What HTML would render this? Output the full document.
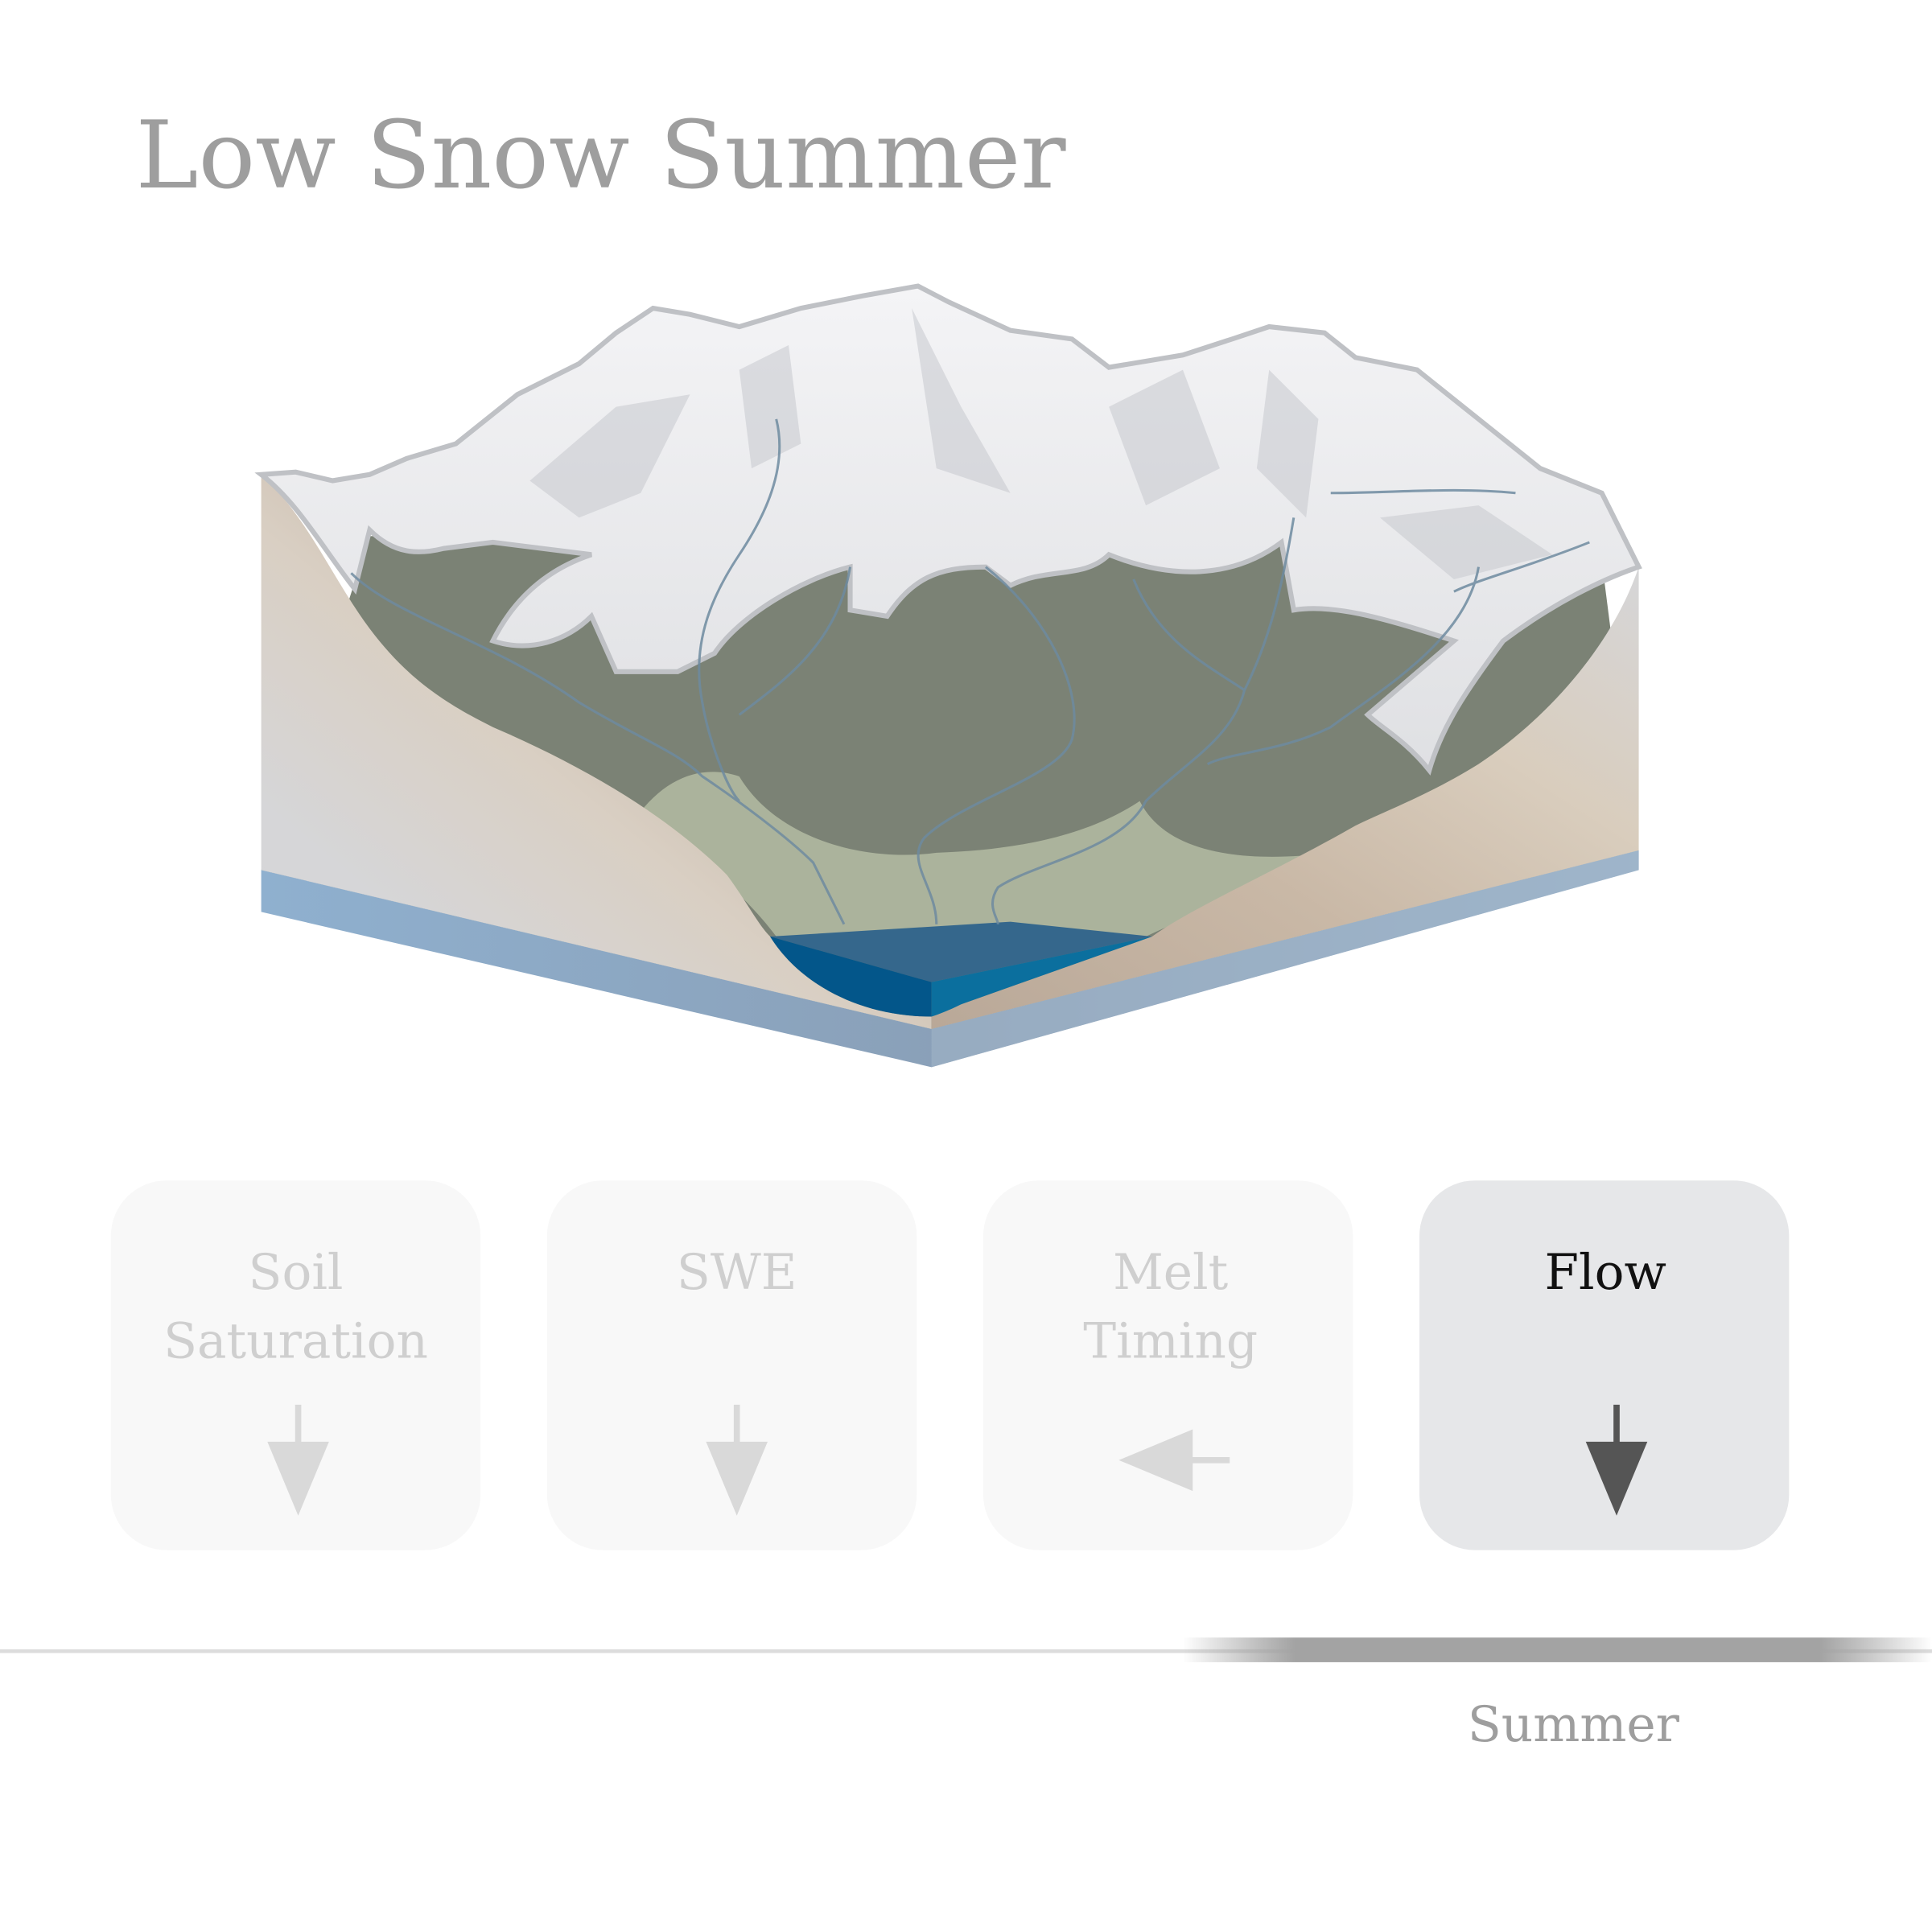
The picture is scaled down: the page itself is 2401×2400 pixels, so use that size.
<!DOCTYPE html>
<html><head><meta charset="utf-8"><style>
html,body{margin:0;padding:0;background:#fff;}
svg{display:block;}
text{font-family:"DejaVu Serif","Liberation Serif",serif;}
</style></head><body>
<svg width="2401" height="2400" viewBox="0 0 1568 1567" xmlns="http://www.w3.org/2000/svg">
<defs>
<linearGradient id="soilL" x1="1" y1="0" x2="0" y2="1">
<stop offset="0" stop-color="#b9a898"/><stop offset="0.3" stop-color="#c4b3a3"/><stop offset="0.55" stop-color="#d9cfc3"/><stop offset="0.8" stop-color="#d6d6d8"/><stop offset="1" stop-color="#d4d4d6"/></linearGradient>
<linearGradient id="soilR" x1="0" y1="1" x2="1" y2="0">
<stop offset="0" stop-color="#b9a898"/><stop offset="0.4" stop-color="#c9b8a6"/><stop offset="0.7" stop-color="#d9cdbd"/><stop offset="1" stop-color="#d6d6d8"/></linearGradient>
<linearGradient id="band" x1="0" x2="1"><stop offset="0" stop-color="#8fb0cf"/><stop offset="0.5" stop-color="#8aa0b8"/><stop offset="1" stop-color="#a2bed6"/></linearGradient>
<linearGradient id="snow" x1="0" y1="0" x2="0" y2="1"><stop offset="0" stop-color="#f4f4f6"/><stop offset="1" stop-color="#dfe0e3"/></linearGradient>
<linearGradient id="tl" x1="0" x2="1"><stop offset="0" stop-color="#999" stop-opacity="0"/><stop offset="0.15" stop-color="#a3a3a3"/><stop offset="0.85" stop-color="#a3a3a3"/><stop offset="1" stop-color="#999" stop-opacity="0"/></linearGradient>
</defs>

<text x="110" y="152" font-size="76" textLength="755" lengthAdjust="spacingAndGlyphs" fill="#9e9e9e">Low Snow Summer</text>

<g>
<path d="M300,435 L700,420 L1300,455 L1330,690 L756,835 L212,706 Z" fill="#7b8275"/>
<path d="M515,665 C540,630 570,620 600,630 C630,680 700,700 760,692 C820,690 880,680 925,650 C950,700 1030,700 1095,690 C1030,720 960,745 930,760 L630,760 C600,720 560,690 515,665 Z" fill="#abb39c"/>
<polygon points="212,706 756,835 1330,690 1330,706 756,866 212,740" fill="url(#band)"/>
<polygon points="756,835 1330,690 1330,706 756,866" fill="#9cb0c4" opacity="0.7"/>
<path d="M212,385 C250,420 270,470 300,510 C330,550 360,570 400,590 C470,620 540,660 590,710 C605,730 615,750 625,760 C650,800 700,825 756,825 L756,835 L212,706 Z" fill="url(#soilL)"/>
<path d="M1330,460 C1310,520 1260,580 1200,620 C1160,645 1120,660 1100,670 C1030,710 970,735 935,760 L780,815 L756,825 L756,835 L1330,690 Z" fill="url(#soilR)"/>
<polygon points="625,760 820,748 935,760 756,797" fill="#35678c"/>
<path d="M625,760 L756,797 L756,825 C700,825 650,800 625,760 Z" fill="#03568a"/>
<path d="M756,797 L935,760 L780,815 C770,820 762,823 756,825 Z" fill="#0b6f9e"/>
<path d="M212,385 L240,383 L270,390 L300,385 L330,372 L370,360 L420,320 L470,295 L500,270 L530,250 L560,255 L600,265 L650,250 L700,240 L745,232 L770,245 L820,268 L870,275 L900,298 L960,288 L1000,275 L1030,265 L1075,270 L1100,290 L1150,300 L1200,340 L1250,380 L1300,400 L1315,430 L1330,460 C1300,470 1260,490 1220,520 C1190,560 1170,590 1160,625 C1140,600 1120,590 1110,580 L1180,520 C1120,500 1080,490 1050,495 L1040,440 C1000,470 950,470 900,450 C880,470 850,460 820,475 L800,460 C760,460 740,470 720,500 L690,495 L690,460 C650,470 600,500 580,530 L550,545 L500,545 L480,500 C460,520 430,530 400,520 C420,480 450,460 480,450 L400,440 L360,445 C340,450 320,450 300,430 L288,478 C262,445 242,408 212,385 Z" fill="url(#snow)" stroke="#bfc1c5" stroke-width="4"/>
<g fill="#c7c9cd" opacity="0.55">
<path d="M430,390 L500,330 L560,320 L520,400 L470,420 Z"/>
<path d="M740,250 L760,380 L820,400 L780,330 Z"/>
<path d="M900,330 L960,300 L990,380 L930,410 Z"/>
<path d="M1030,300 L1070,340 L1060,420 L1020,380 Z"/>
<path d="M1120,420 L1200,410 L1260,450 L1180,470 Z"/>
<path d="M600,300 L640,280 L650,360 L610,380 Z"/>
</g>
<g fill="none" stroke="#6e8ba0" stroke-width="2" opacity="0.85">
<path d="M285,465 C320,500 400,520 470,570 C520,600 550,610 570,630 C600,650 640,680 660,700 C670,720 680,740 685,750"/>
<path d="M630,340 C640,380 620,420 600,450 C580,480 560,520 570,570 C575,600 590,640 600,650"/>
<path d="M690,460 C680,520 640,550 600,580"/>
<path d="M800,460 C850,500 880,560 870,600 C860,630 780,650 750,680 C735,700 760,720 760,750"/>
<path d="M920,470 C940,520 980,540 1010,560 C1000,600 960,620 930,650 C910,690 840,700 810,720 C800,735 810,745 810,750"/>
<path d="M1050,420 C1040,480 1030,520 1010,560"/>
<path d="M1200,460 C1190,520 1120,560 1080,590 C1040,610 1000,610 980,620"/>
<path d="M1290,440 C1240,460 1200,470 1180,480"/>
<path d="M1080,400 C1130,400 1180,395 1230,400"/>
</g>
</g>

<g>
<rect x="90" y="958" width="300" height="300" rx="45" fill="#f8f8f8"/>
<text x="240" y="1046" font-size="40" fill="#cfcfcf" text-anchor="middle">Soil</text>
<text x="240" y="1102" font-size="40" fill="#cfcfcf" text-anchor="middle">Saturation</text>
<line x1="242" y1="1140" x2="242" y2="1200" stroke="#d9d9d9" stroke-width="5"/>
<polygon points="217,1170 267,1170 242,1230" fill="#d9d9d9"/>
</g>
<g>
<rect x="444" y="958" width="300" height="300" rx="45" fill="#f8f8f8"/>
<text x="598" y="1046" font-size="40" fill="#cfcfcf" text-anchor="middle">SWE</text>
<line x1="598" y1="1140" x2="598" y2="1200" stroke="#d9d9d9" stroke-width="5"/>
<polygon points="573,1170 623,1170 598,1230" fill="#d9d9d9"/>
</g>
<g>
<rect x="798" y="958" width="300" height="300" rx="45" fill="#f8f8f8"/>
<text x="950" y="1046" font-size="40" fill="#cfcfcf" text-anchor="middle">Melt</text>
<text x="950" y="1102" font-size="40" fill="#cfcfcf" text-anchor="middle">Timing</text>
<line x1="940" y1="1185" x2="998" y2="1185" stroke="#d9d9d9" stroke-width="5"/>
<polygon points="968,1160 968,1210 908,1185" fill="#d9d9d9"/>
</g>
<g>
<rect x="1152" y="958" width="300" height="300" rx="45" fill="#e6e7e9"/>
<text x="1303" y="1046" font-size="40" fill="#111" text-anchor="middle">Flow</text>
<line x1="1312" y1="1140" x2="1312" y2="1200" stroke="#555" stroke-width="5"/>
<polygon points="1287,1170 1337,1170 1312,1230" fill="#555"/>
</g>

<line x1="0" y1="1340" x2="1568" y2="1340" stroke="#dcdcdc" stroke-width="3"/>
<rect x="960" y="1329" width="608" height="20" fill="url(#tl)"/>
<text x="1277" y="1413" font-size="40" fill="#9e9e9e" text-anchor="middle">Summer</text>
</svg>
</body></html>
